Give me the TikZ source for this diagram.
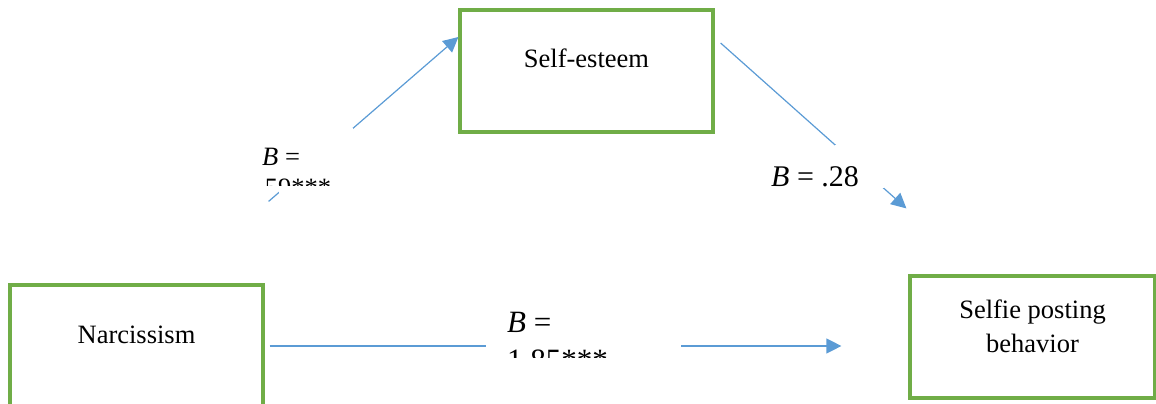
\documentclass[tikz,border=0pt]{standalone}
\usepackage{fontspec}
\setmainfont{Liberation Serif}
\usetikzlibrary{arrows.meta}
\definecolor{boxgreen}{HTML}{70AD47}
\definecolor{linkblue}{HTML}{5B9BD5}

\tikzstyle{varbox}=[draw=boxgreen, line width=3.2pt, minimum width=253pt, minimum height=122pt, inner sep=0pt]
\tikzstyle{boxtext}=[font={\fontsize{26.5}{34}\selectfont}, align=center, inner sep=0pt]
\tikzstyle{link}=[draw=linkblue, line width=1.2pt, -{Triangle[length=15pt,width=15pt]}]
\tikzstyle{coef}=[anchor=base west, inner sep=0pt, font={\fontsize{31}{36}\selectfont}]
\tikzstyle{smallcoef}=[coef, font={\fontsize{26.5}{31}\selectfont}]
\newcommand{\bval}{\textit{B}~=~}

\begin{document}
\begin{tikzpicture}[x=1pt, y=-1pt]
    \useasboundingbox (0,0) rectangle (1156,404);
    % variables
    \node [varbox] (esteem) at (586.5,71) {};
    \node [varbox] (narc) at (136.5,346) {};
    \node [varbox, minimum width=245pt] (selfie) at (1032.5,337) {};
    \node [boxtext] (esteemtext) at ([yshift=-50pt]esteem.north) {Self-esteem};
    \node [boxtext] (narctext) at ([yshift=-51pt]narc.north) {Narcissism};
    \node [boxtext] (selfietext) at ([yshift=-52pt]selfie.north) {Selfie posting\\behavior};
    % paths
    \draw [link] ([xshift=4pt,yshift=82pt]narc.north east) -- ([yshift=34pt]esteem.west);
    \draw [link] ([xshift=6pt,yshift=28pt]esteem.east) -- ([xshift=-2pt,yshift=66pt]selfie.north west);
    \draw [link] ([xshift=5pt]narc.east) -- ([xshift=-67pt,yshift=-9pt]selfie.west);
    % coefficient labels
    \fill [white] (279,128) rectangle (353,194);
    \begin{scope}
        \clip (250,128) rectangle (356,185);
        \node [smallcoef] (acoef) at (262,165) {\bval};
        \node [smallcoef] (acoefb) at (258,196) {.59***};
    \end{scope}
    \fill [white] (486,336) rectangle (681,356);
    \begin{scope}
        \clip (486,290) rectangle (681,357);
        \node [coef] (ccoef) at (507,332) {\bval};
        \node [coef] (ccoefb) at (507,370) {1.85***};
    \end{scope}
    \fill [white] (835,145) rectangle (884,188);
    \node [coef, font={\fontsize{30}{36}\selectfont}] (bcoef) at (771,186) {\bval.28};
\end{tikzpicture}
\end{document}
